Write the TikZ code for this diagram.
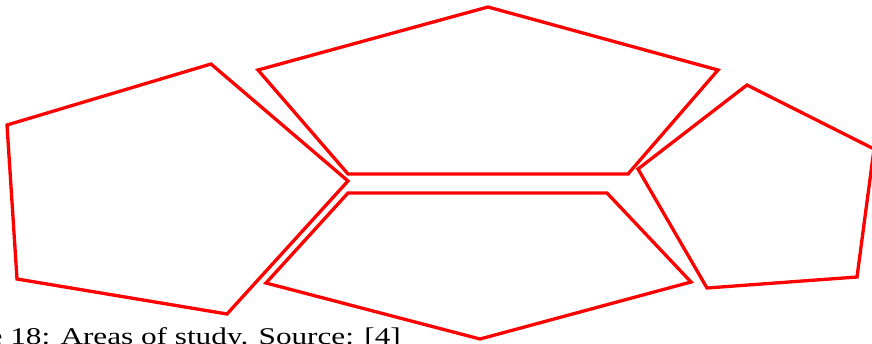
\documentclass[tikz,border=0pt]{standalone}
\usepackage{fontspec}
\setmainfont{Liberation Serif}
\begin{document}
\begin{tikzpicture}[x=1pt,y=-1pt,
  area/.style={draw=red,line width=3.3pt,line join=miter}]
\useasboundingbox (0,0) rectangle (872,343);
\clip (0,0) rectangle (872,343);
% left area
\draw[area] (7,125) -- (211,64) -- (348,181) -- (227,314) -- (17,279) -- cycle;
% top area
\draw[area] (258,70) -- (488,7) -- (718,70) -- (628,174) -- (348,174) -- cycle;
% bottom area
\draw[area] (348,193) -- (607,193) -- (691,282) -- (480,339) -- (266,283) -- cycle;
% right area
\draw[area] (638,169) -- (747,85) -- (874,149) -- (857,277) -- (707,288) -- cycle;
% caption
\node[anchor=base east,inner sep=0pt,font=\fontsize{24}{28}\selectfont] (cap) at (401,344.5)
  {\scalebox{1.3}[1]{Figure 18: Areas of study. Source: [4]}};
\end{tikzpicture}
\end{document}
